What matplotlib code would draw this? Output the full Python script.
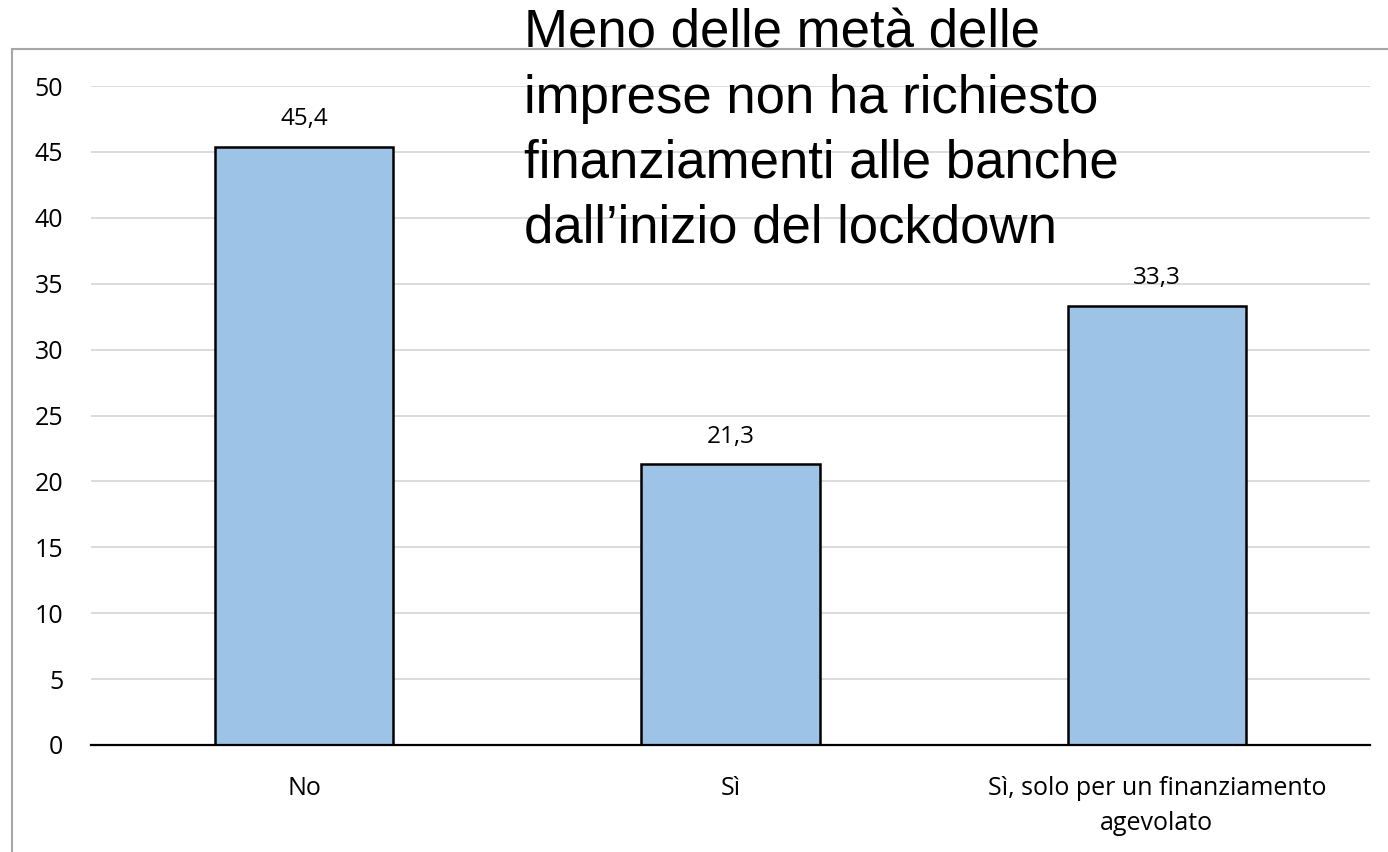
import matplotlib.pyplot as plt
from matplotlib.patches import Rectangle

categories = ['No', 'Sì', 'Sì, solo per un finanziamento\nagevolato']
values = [45.4, 21.3, 33.3]
value_labels = ['45,4', '21,3', '33,3']
title = "Meno delle metà delle\nimprese non ha richiesto\nfinanziamenti alle banche\ndall\u2019inizio del lockdown"

fig = plt.figure(figsize=(13.88, 8.52), dpi=100)
ax = fig.add_axes([0.0656, 0.1256, 0.9214, 0.7734])

# chart frame (goes off the right and bottom edge)
fig.patches.append(Rectangle((12 / 1388, -0.1), 1.2, 1 - 49 / 852 + 0.1,
                             transform=fig.transFigure, fill=False,
                             edgecolor='#A6A6A6', linewidth=1.5, clip_on=False))

x = range(len(categories))
ax.bar(x, values, width=0.418, color='#9DC3E6', edgecolor='black', linewidth=1.8, zorder=3)

for i, v in enumerate(values):
    ax.text(i, v + 2.1, value_labels[i], ha='center', va='center',
            fontsize=17.5, family='Open Sans', color='black')

ax.set_xlim(-0.5, 2.5)
ax.set_ylim(0, 50)
ax.set_yticks(range(0, 51, 5))
ax.set_xticks(list(x))
ax.set_xticklabels(categories, fontsize=18, family='Open Sans', linespacing=1.55)
for lbl in ax.get_yticklabels():
    lbl.set_fontsize(18)
    lbl.set_family('Open Sans')
ax.tick_params(axis='both', length=0)
ax.tick_params(axis='y', pad=20)
ax.tick_params(axis='x', pad=22)
for s in ['top', 'right', 'left']:
    ax.spines[s].set_visible(False)
ax.spines['bottom'].set_linewidth(1.6)
ax.spines['bottom'].set_zorder(4)
ax.yaxis.grid(True, color='#D9D9D9', linewidth=1.3, zorder=0)
ax.set_axisbelow(True)

fig.text(524 / 1388, 1 - 9 / 852, title, ha='left', va='top', fontsize=38,
         family='Liberation Sans', linespacing=1.38, color='black')

fig.savefig('out.png', dpi=100)
